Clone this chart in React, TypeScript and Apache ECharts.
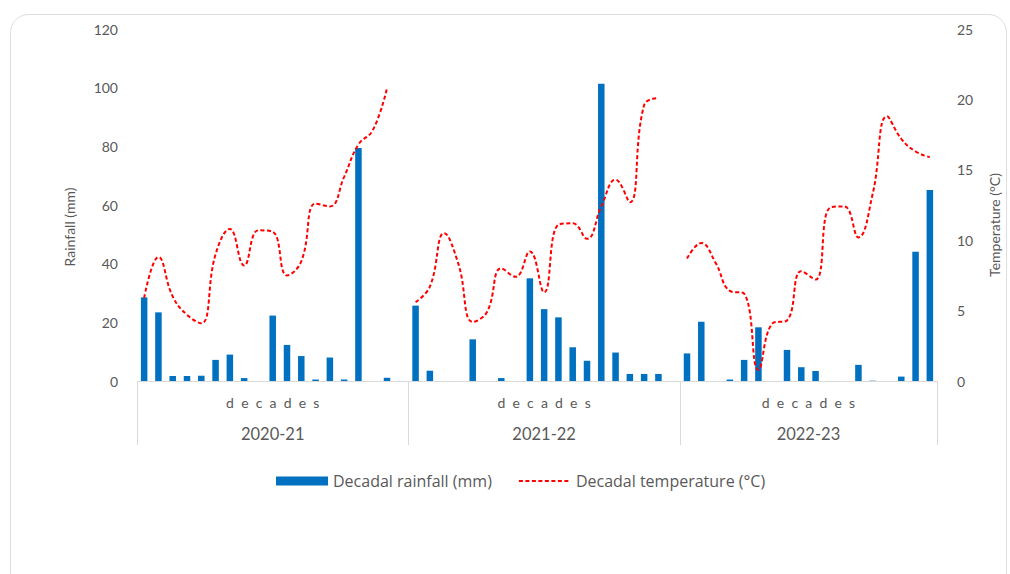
import React, { useEffect, useRef } from 'react';
import * as echarts from 'echarts';

// ---- data ----
const seasons = ['2020-21', '2021-22', '2022-23'];
const groupLabel = 'd  e  c  a  d  e  s';

const rain2020 = [28.5, 23.4, 1.7, 1.7, 1.8, 7.2, 9.0, 1.0, 0, 22.3, 12.3, 8.5, 0.5, 8.0, 0.5, 79.4, 0, 1.1, 0];
const rain2021 = [25.7, 3.5, 0, 0, 14.2, 0, 1.0, 0, 35.0, 24.5, 21.7, 11.5, 6.9, 101.3, 9.7, 2.4, 2.4, 2.4, 0];
const rain2022 = [9.4, 20.2, 0, 0.5, 7.2, 18.3, 0, 10.6, 4.7, 3.4, 0, 0, 5.5, 0.1, 0, 1.5, 44.1, 65.1];

const temp2020 = [5.9, 8.8, 6.0, 4.7, 4.1, 9.0, 10.8, 8.2, 10.7, 10.6, 7.5, 8.5, 12.6, 12.4, 14.5, 16.8, 17.8, 20.8, null];
const temp2021 = [5.6, 6.7, 10.5, 8.3, 4.2, 4.9, 8.0, 7.4, 9.2, 6.3, 11.1, 11.2, 10.1, 12.4, 14.3, 12.7, 19.6, 20.1, null];
const temp2022 = [8.7, 9.8, 8.4, 6.4, 6.2, 0.8, 4.1, 4.3, 7.8, 7.2, 12.3, 12.4, 10.2, 13.3, 18.8, 17.2, 16.3, 15.9];

const rainTicks = { min: 0, max: 120, interval: 20 };
const tempTicks = { min: 0, max: 25, interval: 5 };

const rainGroups = [rain2020, rain2021, rain2022];
const tempGroups = [temp2020, temp2021, temp2022];

export default function App() {
  const ref = useRef<HTMLDivElement>(null);

  useEffect(() => {
    if (!ref.current) return;
    const chart = echarts.init(ref.current, undefined, { renderer: 'svg' });

    const categories: string[] = [];
    rainGroups.forEach((g, gi) => g.forEach((_, i) => categories.push(`${seasons[gi]} d${i + 1}`)));
    const rain = rainGroups.flat();
    const temp = tempGroups.flat();

    const bounds: number[] = [0];
    rainGroups.forEach((g) => bounds.push(bounds[bounds.length - 1] + g.length));
    const centers = seasons.map((_, i) => (bounds[i] + bounds[i + 1]) / 2);
    const total = bounds[bounds.length - 1];

    const font = 'Lato, "Noto Sans", sans-serif';
    const legendFont = '"Open Sans", Lato, sans-serif';
    const gray = '#595959';

    chart.setOption({
      animation: false,
      backgroundColor: '#ffffff',
      textStyle: { fontFamily: font },
      graphic: [
        {
          type: 'rect',
          shape: { x: 10.5, y: 14.5, width: 996, height: 620, r: 18 },
          style: { fill: 'none', stroke: '#dedede', lineWidth: 1 },
          silent: true,
          z: -10,
        },
      ],
      grid: { left: 137, right: 73, top: 29, bottom: 193 },
      legend: {
        bottom: 80,
        left: 271,
        itemWidth: 52,
        itemHeight: 9,
        itemGap: 26,
        textStyle: { color: gray, fontSize: 16, fontFamily: legendFont },
        data: [
          { name: 'Decadal rainfall (mm)', icon: 'rect' },
          { name: 'Decadal temperature (°C)', itemStyle: { opacity: 0 } },
        ],
      },
      xAxis: [
        {
          type: 'category',
          data: categories,
          boundaryGap: true,
          axisLine: { show: true, lineStyle: { color: '#d9d9d9', width: 1 } },
          axisTick: { show: false },
          axisLabel: { show: false },
          splitLine: { show: false },
        },
        {
          type: 'value',
          min: 0,
          max: total,
          position: 'bottom',
          axisLine: { show: false },
          splitLine: { show: false },
          axisTick: {
            show: true,
            customValues: bounds,
            length: 64,
            lineStyle: { color: '#d9d9d9', width: 1 },
          },
          axisLabel: {
            show: true,
            customValues: centers,
            margin: 5,
            formatter: (v: number) => {
              const i = centers.findIndex((c) => Math.abs(c - v) < 0.01);
              return i < 0 ? '' : `{d|${groupLabel}}\n{y|${seasons[i]}}`;
            },
            rich: {
              d: { fontSize: 14, color: gray, lineHeight: 32, fontFamily: font },
              y: { fontSize: 16.5, color: gray, lineHeight: 32, fontFamily: font },
            },
          },
        },
      ],
      yAxis: [
        {
          type: 'value',
          ...rainTicks,
          name: 'Rainfall (mm)',
          nameLocation: 'middle',
          nameRotate: 90,
          nameGap: 61,
          nameTextStyle: { color: gray, fontSize: 14, fontFamily: font, padding: [0, 44, 0, 0] },
          axisLine: { show: false },
          axisTick: { show: false },
          splitLine: { show: false },
          axisLabel: { color: gray, fontSize: 14, margin: 19, fontFamily: font },
        },
        {
          type: 'value',
          ...tempTicks,
          position: 'right',
          name: 'Temperature (°C)',
          nameLocation: 'middle',
          nameRotate: 90,
          nameGap: 50,
          nameTextStyle: { color: gray, fontSize: 14, fontFamily: font, padding: [0, 40, 0, 0] },
          axisLine: { show: false },
          axisTick: { show: false },
          splitLine: { show: false },
          axisLabel: { color: gray, fontSize: 14, margin: 20, fontFamily: font },
        },
      ],
      series: [
        {
          name: 'Decadal rainfall (mm)',
          type: 'bar',
          xAxisIndex: 0,
          yAxisIndex: 0,
          data: rain,
          barWidth: 6.5,
          itemStyle: { color: '#0070c0' },
        },
        {
          name: 'Decadal temperature (°C)',
          type: 'line',
          xAxisIndex: 0,
          yAxisIndex: 1,
          data: temp,
          smooth: 0.45,
          connectNulls: false,
          symbol: 'none',
          showSymbol: false,
          lineStyle: { color: '#ff0000', width: 2, type: [4, 2.5] },
          itemStyle: { color: '#ff0000' },
        },
      ],
    });

    return () => chart.dispose();
  }, []);

  return (
    <div
      ref={ref}
      style={{ position: 'absolute', left: 0, top: 0, width: 1010, height: 574 }}
    />
  );
}
